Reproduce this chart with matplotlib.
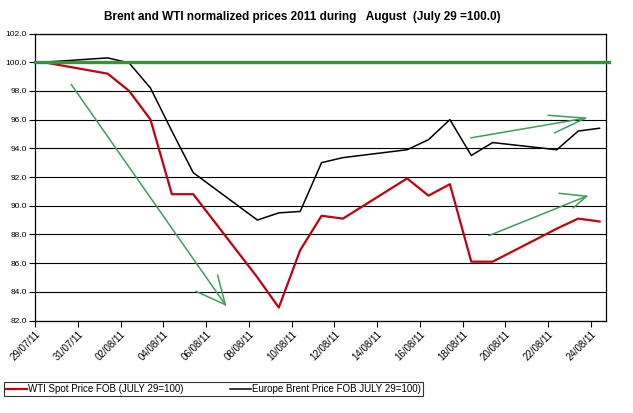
import numpy as np
import matplotlib
matplotlib.use("Agg")
import matplotlib.pyplot as plt
import matplotlib.dates as mdates

plt.rcParams['font.family'] = ['Liberation Sans Narrow', 'Liberation Sans', 'DejaVu Sans']

# trading days, normalized to July 29 = 100
dates = ['2011-07-29', '2011-08-01', '2011-08-02', '2011-08-03', '2011-08-04', '2011-08-05',
         '2011-08-08', '2011-08-09', '2011-08-10', '2011-08-11', '2011-08-12',
         '2011-08-15', '2011-08-16', '2011-08-17', '2011-08-18', '2011-08-19',
         '2011-08-22', '2011-08-23', '2011-08-24']
wti = [100.0, 99.2, 98.0, 96.0, 90.8, 90.8, 85.0, 82.9, 86.9, 89.3, 89.1,
       91.9, 90.7, 91.5, 86.1, 86.1, 88.4, 89.1, 88.9]
brent = [100.0, 100.3, 99.95, 98.2, 95.2, 92.3, 89.0, 89.5, 89.6, 93.0, 93.35,
         93.9, 94.6, 96.0, 93.5, 94.4, 93.9, 95.2, 95.4]

wti_label = 'WTI Spot Price FOB (JULY 29=100)'
brent_label = 'Europe Brent Price FOB JULY 29=100)'
title = 'Brent and WTI normalized prices 2011 during   August  (July 29 =100.0)'

# hand drawn green arrows: (days after 29/07, value)
arrow_down = [(1.70, 98.44), (8.90, 83.10)]
arrow_down_head = [(7.53, 84.03), (8.90, 83.10), (8.54, 85.15)]
arrow_brent = [(20.39, 94.73), (25.74, 96.10)]
arrow_brent_head = [(24.00, 96.30), (25.74, 96.10), (24.30, 95.08)]
arrow_wti = [(21.23, 87.92), (25.79, 90.66)]
arrow_wti_head = [(24.51, 90.86), (25.79, 90.66), (25.17, 89.85)]

base = mdates.date2num(np.datetime64('2011-07-29'))
x = mdates.date2num(np.array(dates, dtype='datetime64[D]')) + 0.4

fig = plt.figure(figsize=(6.33, 4.13), dpi=100)
ax = fig.add_axes([35 / 633, 1 - 320.5 / 413, 571 / 633, 287 / 413])

ax.set_ylim(82, 102)
ax.set_xlim(base, base + 26.7)
ax.set_yticks(np.arange(82, 102.1, 2))
ax.yaxis.set_major_formatter(plt.FormatStrFormatter('%.1f'))
ax.set_xticks(base + np.arange(0, 27, 2))
ax.xaxis.set_major_formatter(mdates.DateFormatter('%d/%m/%y'))
ax.grid(axis='y', color='black', linewidth=0.8)
ax.set_axisbelow(True)

ax.plot(x, wti, color='#c00010', linewidth=1.6, label=wti_label, zorder=3)
ax.plot(x, brent, color='black', linewidth=1.1, label=brent_label, zorder=3)
ax.axhline(100, xmin=0, xmax=1.005, color='#3f8c45', linewidth=2.4, zorder=4, clip_on=False)

for seg in [arrow_down, arrow_down_head, arrow_brent, arrow_brent_head, arrow_wti, arrow_wti_head]:
    px = [base + p[0] for p in seg]
    py = [p[1] for p in seg]
    ax.plot(px, py, color='#3d9e5a', linewidth=1.1, zorder=5)

for s in ax.spines.values():
    s.set_color('black')
    s.set_linewidth(0.9)
ax.tick_params(axis='y', labelsize=6, length=4, width=0.8, pad=2)
ax.tick_params(axis='x', labelsize=7, length=4, width=0.8, pad=2)
for lab in ax.get_xticklabels():
    lab.set_rotation(45)
    lab.set_ha('right')
    lab.set_rotation_mode('anchor')

fig.text(0.478, 1 - 17 / 413, title, ha='center', va='center', fontsize=8.5, fontweight='bold')

leg = fig.legend(loc='lower left', bbox_to_anchor=(4 / 633, 17 / 413, 419 / 633, 14 / 413),
                 mode='expand', ncol=2, fontsize=7, frameon=True, fancybox=False,
                 edgecolor='black', handlelength=2.2, handletextpad=0.1,
                 borderpad=0.2, borderaxespad=0)
leg.get_frame().set_linewidth(0.8)

fig.savefig('out.png', dpi=100)
